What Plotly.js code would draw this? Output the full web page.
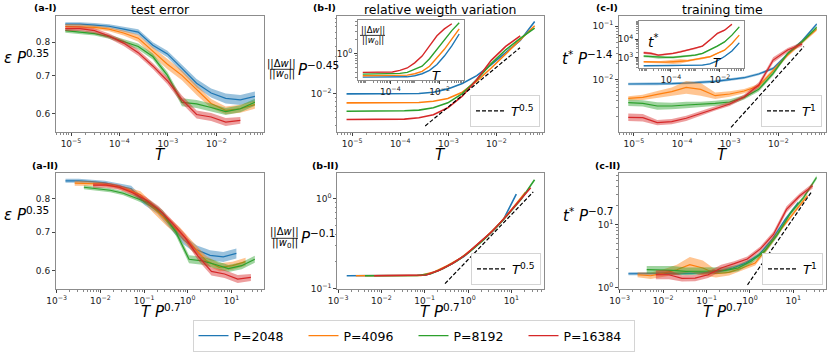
<!DOCTYPE html>
<html><head><meta charset="utf-8">
<script src="https://cdn.plot.ly/plotly-3.0.1.min.js"></script>
<style>html,body{margin:0;padding:0;background:#fff}</style>
</head><body>
<div id="chart" style="width:831px;height:352px"></div>
<script>
const FONT = 'DejaVu Sans, sans-serif';
const W = 831, H = 352;

// temperature grid and sample sizes
const T = [7.63e-6, 1.53e-5, 3.05e-5, 6.10e-5, 1.22e-4, 2.44e-4, 4.88e-4, 9.77e-4, 1.95e-3, 3.91e-3, 7.81e-3, 1.56e-2, 3.13e-2, 6.25e-2];
const P = [2048, 4096, 8192, 16384];
const legendNames = ['P=2048', 'P=4096', 'P=8192', 'P=16384'];
const colors = ['#1f77b4', '#ff7f0e', '#2ca02c', '#d62728'];
const bandColors = ['rgba(31,119,180,0.45)', 'rgba(255,127,14,0.45)', 'rgba(44,160,44,0.45)', 'rgba(214,39,40,0.45)'];

// (a) test error  eps * P^0.35
const errP2048  = [0.860,0.860,0.857,0.853,0.843,0.833,0.790,0.763,0.720,0.678,0.652,0.638,0.634,0.643];
const errP4096  = [0.852,0.851,0.849,0.843,0.830,0.813,0.770,0.732,0.700,0.660,0.625,0.608,0.612,0.622];
const errP8192  = [0.838,0.832,0.828,0.818,0.803,0.786,0.755,0.700,0.628,0.624,0.615,0.605,0.612,0.628];
const errP16384 = [0.845,0.845,0.838,0.820,0.797,0.767,0.727,0.685,0.635,0.598,0.592,0.580,0.584];
// band half-widths (relative)
const errBand2048  = [0.008,0.008,0.008,0.008,0.010,0.012,0.012,0.013,0.015,0.017,0.018,0.020,0.020,0.020];
const errBand4096  = [0.010,0.010,0.008,0.008,0.010,0.014,0.018,0.020,0.020,0.020,0.018,0.016,0.016,0.016];
const errBand8192  = [0.008,0.008,0.008,0.008,0.010,0.012,0.012,0.014,0.016,0.016,0.016,0.014,0.014,0.014];
const errBand16384 = [0.010,0.010,0.010,0.010,0.012,0.012,0.012,0.014,0.016,0.016,0.016,0.016,0.014];

// (b-I) ||dw||/||w0|| P^-0.45 vs T
const dwP2048  = [0.0100,0.0100,0.0100,0.0100,0.0100,0.01009,0.0105,0.01156,0.01349,0.01698,0.02333,0.03273,0.04721,0.08166];
const dwP4096  = [0.00771,0.00771,0.00771,0.00771,0.00771,0.00778,0.00809,0.00874,0.0105,0.01443,0.02118,0.03206,0.04808,0.07211];
const dwP8192  = [0.00605,0.00605,0.00605,0.00605,0.00612,0.00624,0.00667,0.00771,0.01009,0.01514,0.02404,0.03597,0.0500,0.0673];
const dwP16384 = [0.00476,0.00476,0.00476,0.00476,0.00481,0.0050,0.00545,0.00667,0.00935,0.01514,0.02648,0.03963,0.05395];
// (b-II) ||dw||/||w0|| P^-0.1 vs T P^0.7
const dwSc2048  = [0.1393,0.1393,0.1393,0.1393,0.1393,0.1396,0.1413,0.1585,0.1862,0.2291,0.3090,0.4121,0.5821,1.122];
const dwSc4096  = [0.1393,0.1393,0.1393,0.1393,0.1396,0.1406,0.1531,0.1799,0.2163,0.2818,0.3758,0.5248,0.7762,1.175];
const dwSc8192  = [0.1393,0.1393,0.1393,0.1393,0.1400,0.1462,0.1679,0.2018,0.2541,0.3388,0.4677,0.6761,1.000,1.622];
const dwSc16384 = [0.1393,0.1393,0.1393,0.1396,0.1419,0.1603,0.1905,0.2371,0.3162,0.4266,0.6095,0.8913,1.318];
// (b-I inset) ||dw||/||w0|| vs T
const dwRaw2048  = [0.311,0.311,0.311,0.311,0.311,0.311,0.316,0.333,0.368,0.436,0.582,0.889,1.476,2.67];
const dwRaw4096  = [0.333,0.333,0.333,0.333,0.333,0.333,0.344,0.368,0.415,0.535,0.816,1.246,2.07,3.44];
const dwRaw8192  = [0.362,0.362,0.362,0.362,0.362,0.375,0.394,0.451,0.535,0.776,1.246,2.07,3.16,4.67];
const dwRaw16384 = [0.394,0.394,0.394,0.394,0.401,0.436,0.491,0.633,0.889,1.476,2.45,3.44,4.44];

// (c-I) t* P^-1.4 vs T
const tP2048  = [0.00818,0.00818,0.00818,0.00830,0.00853,0.00879,0.00917,0.00986,0.01074,0.01259,0.01607,0.02985,0.05309,0.1090];
const tP4096  = [0.00441,0.00460,0.00524,0.00587,0.00708,0.00649,0.00494,0.00531,0.00604,0.00750,0.01454,0.02858,0.05082,0.0866];
const tP8192  = [0.00365,0.00355,0.00316,0.00316,0.00330,0.00340,0.00355,0.00376,0.00460,0.00649,0.01296,0.03073,0.05082,0.0944];
const tP16384 = [0.00194,0.00191,0.00154,0.00161,0.00186,0.00230,0.00286,0.00345,0.00473,0.00783,0.02305,0.03548,0.04597];
// (c-II) t* P^-0.7 vs T P^0.7
const tSc2048  = [1.652,1.652,1.652,1.652,1.671,1.694,1.734,1.799,2.037,2.443,3.319,5.768,12.02,22.18];
const tSc4096  = [1.592,1.535,1.694,1.914,2.301,2.037,1.652,1.734,2.037,2.443,4.406,8.531,15.74,28.31];
const tSc8192  = [1.914,1.914,1.866,1.799,1.799,1.824,1.866,2.037,2.600,3.750,6.918,14.99,26.67,55.59];
const tSc16384 = [1.592,1.592,1.393,1.409,1.592,2.037,2.385,2.831,4.093,6.918,17.35,28.31,40.92];
// (c-I inset) t* vs T
const tRaw2048  = [361,361,361,361,361,361,361,378,394,457,661,1148,2291,6310];
const tRaw4096  = [596,571,548,571,596,631,675,796,902,1109,1679,2541,5834,16440];
const tRaw8192  = [1205,1109,1021,1021,1021,1109,1205,1365,1679,2541,4169,7079,16440,46450];
const tRaw16384 = [1824,1679,1365,1514,1679,2065,2541,3126,4188,8831,20230,30620,64710];
// band half-widths (decades)
const tBand2048  = [0.025,0.025,0.025,0.025,0.025,0.025,0.025,0.025,0.025,0.025,0.025,0.025,0.025,0.025];
const tBand4096  = [0.04,0.05,0.06,0.08,0.12,0.12,0.06,0.05,0.04,0.04,0.04,0.03,0.03,0.03];
const tBand8192  = [0.06,0.06,0.07,0.06,0.06,0.05,0.05,0.05,0.04,0.04,0.04,0.03,0.03,0.03];
const tBand16384 = [0.07,0.07,0.05,0.05,0.05,0.05,0.04,0.04,0.04,0.05,0.05,0.04,0.04];

// guide lines (power laws)
const guideB1T = [3.3e-4, 3.1e-2], guideB1Coef = 0.217;
const guideB2X = [0.294, 32], guideB2Coef = 0.21;
const guideC1T = [1.04e-3, 3.4e-2], guideC1Coef = 1.21;
const guideC2X = [0.88, 27.1], guideC2Coef = 1.253;

const errData = [errP2048, errP4096, errP8192, errP16384];
const errBands = [errBand2048, errBand4096, errBand8192, errBand16384];
const dwData = [dwP2048, dwP4096, dwP8192, dwP16384];
const dwScData = [dwSc2048, dwSc4096, dwSc8192, dwSc16384];
const dwRawData = [dwRaw2048, dwRaw4096, dwRaw8192, dwRaw16384];
const tData = [tP2048, tP4096, tP8192, tP16384];
const tScData = [tSc2048, tSc4096, tSc8192, tSc16384];
const tRawData = [tRaw2048, tRaw4096, tRaw8192, tRaw16384];
const tBands = [tBand2048, tBand4096, tBand8192, tBand16384];

const traces = [];
function addSeries(xa, ya, xs, ys, i, opt) {
  opt = opt || {};
  if (opt.band) {
    const up = ys.map((v, k) => opt.rel ? v * (1 + opt.band[k]) : v * Math.pow(10, opt.band[k]));
    const lo = ys.map((v, k) => opt.rel ? v * (1 - opt.band[k]) : v / Math.pow(10, opt.band[k]));
    traces.push({x: xs.concat(xs.slice().reverse()), y: up.concat(lo.slice().reverse()),
      xaxis: xa, yaxis: ya, mode: 'lines', fill: 'toself', fillcolor: bandColors[i],
      line: {width: 0, color: bandColors[i]}, hoverinfo: 'skip', showlegend: false});
  }
  traces.push({x: xs, y: ys, xaxis: xa, yaxis: ya, mode: 'lines',
    line: {color: colors[i], width: opt.width || 1.2}, name: legendNames[i],
    showlegend: !!opt.legend, legend: 'legend'});
}
function Tn(n) { return T.slice(0, n); }
function TPn(n, i) { return T.slice(0, n).map(t => t * Math.pow(P[i], 0.7)); }

for (let i = 0; i < 4; i++) {
  const n = errData[i].length;
  addSeries('x', 'y', Tn(n), errData[i], i, {band: errBands[i], rel: true, legend: true});
  addSeries('x4', 'y4', TPn(n, i), errData[i], i, {band: errBands[i], rel: true});
  addSeries('x2', 'y2', Tn(dwData[i].length), dwData[i], i, {width: 1.6});
  addSeries('x5', 'y5', TPn(dwScData[i].length, i), dwScData[i], i, {width: 1.6});
  addSeries('x7', 'y7', Tn(dwRawData[i].length), dwRawData[i], i, {width: 1.4});
  addSeries('x3', 'y3', Tn(tData[i].length), tData[i], i, {band: tBands[i]});
  addSeries('x6', 'y6', TPn(tScData[i].length, i), tScData[i], i, {band: tBands[i]});
  addSeries('x8', 'y8', Tn(tRawData[i].length), tRawData[i], i, {band: tBands[i], width: 1.3});
}
function guide(xa, ya, xs, coef, ex, leg, label) {
  traces.push({x: xs, y: xs.map(v => coef * Math.pow(v, ex)), xaxis: xa, yaxis: ya, mode: 'lines',
    line: {color: '#000', width: 1.2, dash: '4px,2px'}, name: label, showlegend: true, legend: leg});
}
guide('x2', 'y2', guideB1T, guideB1Coef, 0.5, 'legend2', '<i>T</i><sup>0.5</sup>');
guide('x5', 'y5', guideB2X, guideB2Coef, 0.5, 'legend3', '<i>T</i><sup>0.5</sup>');
guide('x3', 'y3', guideC1T, guideC1Coef, 1, 'legend4', '<i>T</i><sup>1</sup>');
guide('x6', 'y6', guideC2X, guideC2Coef, 1, 'legend5', '<i>T</i><sup>1</sup>');

function powTicks(lo, hi, step) {
  const v = [], t = [];
  for (let e = lo; e <= hi; e += step) { v.push(Math.pow(10, e)); t.push('10<sup>' + (e < 0 ? '\u2212' : '') + Math.abs(e) + '</sup>'); }
  return {tickvals: v, ticktext: t};
}
function px2x(p) { return p / W; }
function px2y(p) { return 1 - p / H; }
function axis(dom, range, anchor, ticks, minor, extra) {
  const a = Object.assign({type: 'log', domain: dom, range: range, anchor: anchor,
    showline: true, mirror: true, linecolor: '#8c8c8c', linewidth: 1,
    ticks: 'outside', ticklen: 3, tickwidth: 0.9, tickcolor: '#333',
    tickfont: {family: FONT, size: 9, color: '#222'}, tickmode: 'array',
    showgrid: false, zeroline: false, fixedrange: true}, ticks);
  if (minor) a.minor = {ticks: 'outside', ticklen: 1.8, tickwidth: 0.7, tickcolor: '#555', dtick: 'D1', showgrid: false};
  return Object.assign(a, extra || {});
}
const xa = [px2x(56), px2x(264.3)], xb = [px2x(337.3), px2x(544)], xc = [px2x(619), px2x(826)];
const y1 = [px2y(132.5), px2y(16)], y2 = [px2y(290), px2y(173)];
const xr1 = [-5.31, -1.01], xr2 = [-3.017, 1.753];
const errRange = [Math.log10(0.557), Math.log10(0.889)];
const errTicks = {tickvals: [0.6, 0.7, 0.8], ticktext: ['0.6', '0.7', '0.8']};

const subLegend = (px, py) => ({x: px2x(px), y: px2y(py), xanchor: 'right', yanchor: 'bottom',
  font: {family: FONT, size: 13, color: '#000'}, bgcolor: '#fff', bordercolor: '#d4d4d4', borderwidth: 1, itemwidth: 30});

const layout = {
  width: W, height: H, margin: {l: 0, r: 0, t: 0, b: 0},
  paper_bgcolor: '#fff', plot_bgcolor: '#fff',
  font: {family: FONT, color: '#000'},
  xaxis:  axis(xa, xr1, 'y',  powTicks(-5, -2, 1), true),
  yaxis:  axis(y1, errRange, 'x', errTicks, false),
  xaxis2: axis(xb, xr1, 'y2', powTicks(-5, -2, 1), true),
  yaxis2: axis(y1, [-2.482, -1.018], 'x2', powTicks(-2, -2, 1), true),
  xaxis3: axis(xc, xr1, 'y3', powTicks(-5, -2, 1), true),
  yaxis3: axis(y1, [-2.99, -0.81], 'x3', powTicks(-2, -1, 1), true),
  xaxis4: axis(xa, xr2, 'y4', powTicks(-3, 1, 1), true),
  yaxis4: axis(y2, errRange, 'x4', errTicks, false),
  xaxis5: axis(xb, xr2, 'y5', powTicks(-3, 1, 1), true),
  yaxis5: axis(y2, [-1.005, 0.29], 'x5', powTicks(-1, 0, 1), true),
  xaxis6: axis(xc, xr2, 'y6', powTicks(-3, 1, 1), true),
  yaxis6: axis(y2, [-0.027, 1.824], 'x6', powTicks(0, 1, 1), true),
  xaxis7: axis([px2x(358), px2x(464)], xr1, 'y7', powTicks(-4, -2, 2), true),
  yaxis7: axis([px2y(80.5), px2y(20.5)], [-0.575, 0.72], 'x7', powTicks(0, 0, 1), true),
  xaxis8: axis([px2x(639), px2x(744)], xr1, 'y8', powTicks(-4, -2, 2), true),
  yaxis8: axis([px2y(68.3), px2y(21.3)], [2.43, 4.97], 'x8', powTicks(3, 4, 1), true),
  legend: {orientation: 'h', x: 0.4976, y: px2y(337), xanchor: 'center', yanchor: 'middle',
    font: {family: FONT, size: 12.5, color: '#000'}, bgcolor: '#fff', bordercolor: '#d4d4d4', borderwidth: 1,
    itemwidth: 30, entrywidth: 65, entrywidthmode: 'pixels', traceorder: 'normal'},
  legend2: subLegend(540, 127),
  legend3: subLegend(541, 285),
  legend4: subLegend(822, 127),
  legend5: subLegend(823, 285),
  annotations: [], shapes: []
};

function ann(text, px, py, size, extra) {
  layout.annotations.push(Object.assign({text: text, x: px / W, y: 1 - py / H, xref: 'paper', yref: 'paper',
    showarrow: false, font: {family: FONT, size: size, color: '#000'}, xanchor: 'center', yanchor: 'middle'}, extra || {}));
}
function bar(x0, x1, py) {
  layout.shapes.push({type: 'line', xref: 'paper', yref: 'paper', x0: x0 / W, x1: x1 / W, y0: 1 - py / H, y1: 1 - py / H,
    line: {color: '#000', width: 0.8}});
}
// titles
ann('test error', 160.5, 10, 12.5);
ann('relative weigth variation', 440.5, 10, 12.5);
ann('training time', 722.5, 10, 12.5);
// panel labels
ann('<b>(a-I)</b>', 45, 8, 9.5);
ann('<b>(b-I)</b>', 324, 8, 9.5);
ann('<b>(c-I)</b>', 606.5, 8, 9.5);
ann('<b>(a-II)</b>', 45, 166, 9.5);
ann('<b>(b-II)</b>', 325, 166, 9.5);
ann('<b>(c-II)</b>', 607, 166, 9.5);
// x titles
ann('<i>T</i>', 160.5, 155.5, 15);
ann('<i>T</i>', 440.5, 155.5, 15);
ann('<i>T</i>', 722.5, 155.5, 15);
ann('<i>T P</i><sup>0.7</sup>', 160.5, 312, 15);
ann('<i>T P</i><sup>0.7</sup>', 440.5, 312, 15);
ann('<i>T P</i><sup>0.7</sup>', 722.5, 312, 15);
// y titles
ann('<i>ε P</i><sup>0.35</sup>', 2, 57, 15, {xanchor: 'left'});
ann('<i>ε P</i><sup>0.35</sup>', 2, 214.5, 15, {xanchor: 'left'});
ann('||Δ<i>w</i>||', 281.5, 64, 10);
bar(270.5, 293, 69.5);
ann('||<i>w</i><sub>0</sub>||', 281.5, 75, 10);
ann('<i>P</i><sup>−0.45</sup>', 296, 69, 15, {xanchor: 'left'});
ann('||Δ<i>w</i>||', 284.5, 232.5, 10);
bar(271.5, 298, 239);
ann('||<i>w</i><sub>0</sub>||', 284.5, 244.5, 10);
ann('<i>P</i><sup>−0.1</sup>', 299, 238, 15, {xanchor: 'left'});
ann('<i>t</i><sup>*</sup><i> P</i><sup>−1.4</sup>', 560, 58, 15, {xanchor: 'left'});
ann('<i>t</i><sup>*</sup><i> P</i><sup>−0.7</sup>', 561, 216, 15, {xanchor: 'left'});
// inset labels
ann('||Δ<i>w</i>||', 372.5, 30, 8.5);
bar(360, 385, 35.5);
ann('||<i>w</i><sub>0</sub>||', 372.5, 40.5, 8.5);
ann('<i>T</i>', 437, 75.5, 13);
ann('<i>t</i><sup>*</sup>', 646, 41, 14, {xanchor: 'left'});
ann('<i>T</i>', 717, 63.5, 12);

Plotly.newPlot('chart', traces, layout, {staticPlot: true, displayModeBar: false});
</script>
</body></html>
